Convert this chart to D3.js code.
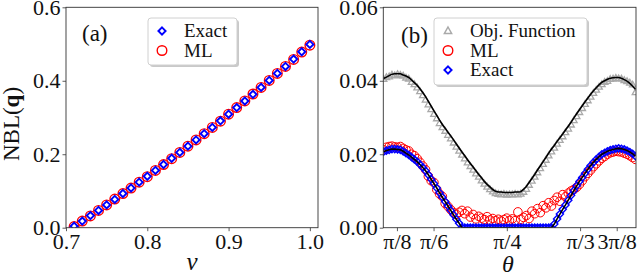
<!DOCTYPE html>
<html>
  <head>
    <meta charset="utf-8">
    <title>NBL panels</title>
    <script src="https://unpkg.com/d3@7/dist/d3.min.js"></script>
    <style>
      body { margin: 0; background: white; }
    </style>
  </head>
  <body>
    <svg width='640' height='276'></svg>
    <script>
      const FONT = "'Liberation Serif', 'Times New Roman', serif";
      const svg = d3.select('svg').attr('font-family', FONT);

      // ---- panel (a) data ----
      const vVals = [0.71, 0.72, 0.73, 0.74, 0.75, 0.76, 0.77, 0.78, 0.79, 0.80,
                     0.81, 0.82, 0.83, 0.84, 0.85, 0.86, 0.87, 0.88, 0.89, 0.90,
                     0.91, 0.92, 0.93, 0.94, 0.95, 0.96, 0.97, 0.98, 0.99, 1.00];
      const nblExactA = [0.004, 0.018, 0.033, 0.047, 0.062, 0.077, 0.093, 0.108, 0.124, 0.140,
                         0.156, 0.172, 0.189, 0.205, 0.222, 0.239, 0.256, 0.273, 0.291, 0.309,
                         0.327, 0.345, 0.363, 0.382, 0.401, 0.420, 0.439, 0.459, 0.479, 0.499];
      const nblMLA = [0.003, 0.018, 0.032, 0.047, 0.062, 0.078, 0.093, 0.108, 0.124, 0.139,
                      0.156, 0.172, 0.188, 0.205, 0.222, 0.239, 0.256, 0.273, 0.290, 0.309,
                      0.327, 0.345, 0.364, 0.382, 0.401, 0.420, 0.439, 0.458, 0.478, 0.497];
      const xTicksA = [0.7, 0.8, 0.9, 1.0];
      const yTicksA = [0.0, 0.2, 0.4, 0.6];

      // ---- panel (b) data ----
      const theta = [0.345, 0.355, 0.365, 0.375, 0.385, 0.395, 0.405, 0.415, 0.425, 0.435,
                     0.445, 0.455, 0.465, 0.475, 0.485, 0.495, 0.505, 0.515, 0.525, 0.535,
                     0.545, 0.555, 0.565, 0.575, 0.585, 0.595, 0.605, 0.615, 0.625, 0.635,
                     0.645, 0.655, 0.665, 0.675, 0.685, 0.695, 0.705, 0.715, 0.725, 0.735,
                     0.745, 0.755, 0.765, 0.775, 0.785, 0.795, 0.805, 0.815, 0.825, 0.835,
                     0.845, 0.855, 0.865, 0.875, 0.885, 0.895, 0.905, 0.915, 0.925, 0.935,
                     0.945, 0.955, 0.965, 0.975, 0.985, 0.995, 1.005, 1.015, 1.025, 1.035,
                     1.045, 1.055, 1.065, 1.075, 1.085, 1.095, 1.105, 1.115, 1.125, 1.135,
                     1.145, 1.155, 1.165, 1.175, 1.185, 1.195, 1.205, 1.215, 1.225, 1.235,
                     1.245];
      const objFit = [0.0406, 0.0410, 0.0414, 0.0418, 0.0419, 0.0419, 0.0419, 0.0416, 0.0413, 0.0409,
                      0.0402, 0.0395, 0.0388, 0.0378, 0.0368, 0.0357, 0.0344, 0.0331, 0.0318, 0.0306,
                      0.0293, 0.0281, 0.0271, 0.0260, 0.0250, 0.0239, 0.0228, 0.0217, 0.0206, 0.0196,
                      0.0185, 0.0175, 0.0165, 0.0155, 0.0145, 0.0136, 0.0126, 0.0118, 0.0111, 0.0104,
                      0.0099, 0.0097, 0.0097, 0.0096, 0.0096, 0.0096, 0.0096, 0.0097, 0.0097, 0.0098,
                      0.0104, 0.0112, 0.0123, 0.0134, 0.0145, 0.0157, 0.0168, 0.0180, 0.0191, 0.0203,
                      0.0214, 0.0224, 0.0235, 0.0245, 0.0255, 0.0266, 0.0276, 0.0287, 0.0299, 0.0310,
                      0.0321, 0.0332, 0.0343, 0.0353, 0.0363, 0.0373, 0.0381, 0.0389, 0.0396, 0.0400,
                      0.0404, 0.0407, 0.0408, 0.0409, 0.0409, 0.0407, 0.0403, 0.0399, 0.0393, 0.0385,
                      0.0377];
      const objFunc = [0.0404, 0.0409, 0.0411, 0.0416, 0.0414, 0.0417, 0.0415, 0.0413, 0.0408, 0.0405,
                       0.0396, 0.0390, 0.0381, 0.0371, 0.0360, 0.0348, 0.0335, 0.0322, 0.0309, 0.0297,
                       0.0284, 0.0273, 0.0263, 0.0252, 0.0242, 0.0231, 0.0220, 0.0209, 0.0198, 0.0188,
                       0.0177, 0.0167, 0.0157, 0.0147, 0.0138, 0.0128, 0.0119, 0.0111, 0.0104, 0.0098,
                       0.0093, 0.0091, 0.0090, 0.0091, 0.0089, 0.0090, 0.0090, 0.0091, 0.0090, 0.0092,
                       0.0097, 0.0105, 0.0116, 0.0127, 0.0138, 0.0150, 0.0161, 0.0173, 0.0184, 0.0196,
                       0.0207, 0.0217, 0.0228, 0.0238, 0.0248, 0.0259, 0.0269, 0.0280, 0.0292, 0.0303,
                       0.0314, 0.0325, 0.0336, 0.0346, 0.0356, 0.0366, 0.0375, 0.0383, 0.0390, 0.0396,
                       0.0399, 0.0404, 0.0405, 0.0407, 0.0406, 0.0405, 0.0401, 0.0398, 0.0394, 0.0389,
                       0.0368];
      const nblMLB = [0.0212, 0.0219, 0.0221, 0.0222, 0.0220, 0.0219, 0.0221, 0.0216, 0.0212, 0.0209,
                      0.0200, 0.0196, 0.0188, 0.0178, 0.0168, 0.0158, 0.0140, 0.0128, 0.0123, 0.0104,
                      0.0092, 0.0085, 0.0066, 0.0058, 0.0049, 0.0041, 0.0036, 0.0042, 0.0047, 0.0038,
                      0.0045, 0.0029, 0.0036, 0.0024, 0.0031, 0.0026, 0.0022, 0.0030, 0.0021, 0.0025,
                      0.0019, 0.0023, 0.0018, 0.0022, 0.0026, 0.0020, 0.0024, 0.0019, 0.0043, 0.0023,
                      0.0028, 0.0033, 0.0025, 0.0045, 0.0038, 0.0052, 0.0041, 0.0060, 0.0054, 0.0068,
                      0.0059, 0.0074, 0.0083, 0.0072, 0.0090, 0.0084, 0.0094, 0.0100, 0.0104, 0.0110,
                      0.0118, 0.0128, 0.0139, 0.0148, 0.0157, 0.0166, 0.0174, 0.0182, 0.0189, 0.0194,
                      0.0200, 0.0204, 0.0206, 0.0208, 0.0207, 0.0206, 0.0203, 0.0200, 0.0196, 0.0191,
                      0.0186];
      const nblExactB = [0.0207, 0.0210, 0.0212, 0.0214, 0.0214, 0.0213, 0.0212, 0.0208, 0.0203, 0.0198,
                         0.0192, 0.0186, 0.0180, 0.0172, 0.0164, 0.0155, 0.0144, 0.0132, 0.0120, 0.0108,
                         0.0095, 0.0083, 0.0071, 0.0059, 0.0047, 0.0035, 0.0023, 0.0012, 0, 0,
                         0, 0, 0, 0, 0, 0, 0, 0, 0, 0,
                         0, 0, 0, 0, 0, 0, 0, 0, 0, 0,
                         0, 0, 0, 0, 0, 0, 0, 0, 0, 0,
                         0, 0.0010, 0.0024, 0.0037, 0.0050, 0.0062, 0.0075, 0.0088, 0.0101, 0.0114,
                         0.0126, 0.0137, 0.0148, 0.0159, 0.0169, 0.0178, 0.0186, 0.0193, 0.0200, 0.0204,
                         0.0208, 0.0211, 0.0213, 0.0215, 0.0216, 0.0215, 0.0213, 0.0210, 0.0206, 0.0201,
                         0.0195];
      const xTicksB = [Math.PI / 8, Math.PI / 6, Math.PI / 4, Math.PI / 3, 3 * Math.PI / 8];
      const xTickLabelsB = ['π/8', 'π/6', 'π/4', 'π/3', '3π/8'];
      const yTicksB = [0.00, 0.02, 0.04, 0.06];

      const RED = '#ff0000', BLUE = '#0000ff', GRAY = '#a9a9a9';

      // marker shapes
      const diamond = s => `M0,${-s}L${s},0L0,${s}L${-s},0Z`;
      const triangle = s => `M0,${-s}L${s * 0.9},${s * 0.6}L${-s * 0.9},${s * 0.6}Z`;

      // 坐标轴 + 边框
      function drawFrame(g, x, y, xTicks, xFmt, yTicks, yFmt) {
        const [x0, x1] = x.range();
        const [y0, y1] = y.range();
        const xAxis = d3.axisBottom(x).tickValues(xTicks).tickFormat(xFmt).tickSize(3.5).tickPadding(2);
        const yAxis = d3.axisLeft(y).tickValues(yTicks).tickFormat(yFmt).tickSize(3.5).tickPadding(2);
        const xg = g.append('g').attr('transform', `translate(0,${y0})`).call(xAxis);
        const yg = g.append('g').attr('transform', `translate(${x0},0)`).call(yAxis);
        [xg, yg].forEach(a => {
          a.attr('font-family', FONT).attr('font-size', 22);
          a.select('.domain').remove();
          a.selectAll('.tick line').attr('stroke', '#333').attr('stroke-width', 0.8);
          a.selectAll('.tick text').attr('fill', '#111');
        });
        g.append('rect')
          .attr('x', x0).attr('y', y1)
          .attr('width', x1 - x0).attr('height', y0 - y1)
          .attr('fill', 'none').attr('stroke', '#333').attr('stroke-width', 0.9);
      }

      function clipFor(id, x, y) {
        const [x0, x1] = x.range();
        const [y0, y1] = y.range();
        svg.append('defs').append('clipPath').attr('id', id)
          .append('rect').attr('x', x0).attr('y', y1).attr('width', x1 - x0).attr('height', y0 - y1);
        return `url(#${id})`;
      }

      function legend(g, x, y, w, h, items) {
        g.append('rect').attr('x', x + 2).attr('y', y + 2).attr('width', w).attr('height', h)
          .attr('rx', 3).attr('fill', '#888').attr('opacity', 0.45);
        g.append('rect').attr('x', x).attr('y', y).attr('width', w).attr('height', h)
          .attr('rx', 3).attr('fill', 'white').attr('stroke', '#d0d0d0').attr('stroke-width', 1);
        items.forEach((it, i) => {
          const cy = y + 13 + i * 19.5;
          const m = g.append('g').attr('transform', `translate(${x + 14},${cy})`);
          it.mark(m);
          g.append('text').attr('x', x + 36).attr('y', cy + 6)
            .attr('font-size', 19).attr('fill', '#111').text(it.label);
        });
      }

      // ---------------- panel (a) ----------------
      const xA = d3.scaleLinear().domain([0.7, 1.01]).range([66, 318]);
      const yA = d3.scaleLinear().domain([0, 0.6]).range([227.7, 7.3]);
      const gA = svg.append('g');
      const clipA = clipFor('clipA', xA, yA);
      const ptsA = gA.append('g').attr('clip-path', clipA);

      ptsA.selectAll('circle').data(vVals).join('circle')
        .attr('cx', d => xA(d)).attr('cy', (d, i) => yA(nblMLA[i])).attr('r', 4.8)
        .attr('fill', 'none').attr('stroke', RED).attr('stroke-width', 1.4);
      ptsA.selectAll('path').data(vVals).join('path')
        .attr('transform', (d, i) => `translate(${xA(d)},${yA(nblExactA[i])})`)
        .attr('d', diamond(3.6)).attr('fill', 'none').attr('stroke', BLUE).attr('stroke-width', 1.9);

      drawFrame(gA, xA, yA, xTicksA, d3.format('.1f'), yTicksA, d3.format('.1f'));

      gA.append('text').attr('x', 82).attr('y', 41).attr('font-size', 23).attr('fill', '#111').text('(a)');
      gA.append('text').attr('x', 192).attr('y', 270).attr('text-anchor', 'middle')
        .attr('font-size', 25).attr('font-style', 'italic').attr('fill', '#111').text('v');
      const yLab = gA.append('text').attr('transform', 'translate(19,124) rotate(-90)')
        .attr('text-anchor', 'middle').attr('font-size', 23).attr('fill', '#111');
      yLab.append('tspan').text('NBL(');
      yLab.append('tspan').attr('font-weight', 'bold').text('q');
      yLab.append('tspan').text(')');

      legend(gA, 148, 18, 89, 47, [
        {label: 'Exact', mark: m => m.append('path').attr('d', diamond(3.6)).attr('fill', 'none').attr('stroke', BLUE).attr('stroke-width', 1.9)},
        {label: 'ML', mark: m => m.append('circle').attr('r', 4.8).attr('fill', 'none').attr('stroke', RED).attr('stroke-width', 1.4)}
      ]);

      // ---------------- panel (b) ----------------
      const xB = d3.scaleLinear().domain([0.344, 1.247]).range([383.3, 636]);
      const yB = d3.scaleLinear().domain([0, 0.06]).range([227.7, 7.3]);
      const gB = svg.append('g');
      const clipB = clipFor('clipB', xB, yB);
      const ptsB = gB.append('g').attr('clip-path', clipB);

      ptsB.append('g').selectAll('path').data(theta).join('path')
        .attr('transform', (d, i) => `translate(${xB(d)},${yB(objFunc[i])})`)
        .attr('d', triangle(3.6)).attr('fill', 'none').attr('stroke', GRAY).attr('stroke-width', 1.3);
      ptsB.append('g').selectAll('circle').data(theta).join('circle')
        .attr('cx', d => xB(d)).attr('cy', (d, i) => yB(nblMLB[i])).attr('r', 4.3)
        .attr('fill', 'none').attr('stroke', RED).attr('stroke-width', 1);
      ptsB.append('g').selectAll('path').data(theta).join('path')
        .attr('transform', (d, i) => `translate(${xB(d)},${yB(nblExactB[i])})`)
        .attr('d', diamond(3.6)).attr('fill', 'none').attr('stroke', BLUE).attr('stroke-width', 1.4);

      const lineFit = d3.line().x(d => xB(d)).y((d, i) => yB(objFit[i]));
      const lineExact = d3.line().x(d => xB(d)).y((d, i) => yB(nblExactB[i]));
      ptsB.append('path').attr('d', lineFit(theta)).attr('fill', 'none').attr('stroke', 'black').attr('stroke-width', 1.6);
      ptsB.append('path').attr('d', lineExact(theta)).attr('fill', 'none').attr('stroke', 'black').attr('stroke-width', 1.6);

      drawFrame(gB, xB, yB, xTicksB, (d, i) => xTickLabelsB[i], yTicksB, d3.format('.2f'));

      gB.append('text').attr('x', 401).attr('y', 43).attr('font-size', 23).attr('fill', '#111').text('(b)');
      gB.append('text').attr('x', 508).attr('y', 272).attr('text-anchor', 'middle')
        .attr('font-size', 24).attr('font-style', 'italic').attr('fill', '#111').text('θ');

      legend(gB, 434, 18, 153, 67, [
        {label: 'Obj. Function', mark: m => m.append('path').attr('d', triangle(4)).attr('fill', 'none').attr('stroke', GRAY).attr('stroke-width', 1.5)},
        {label: 'ML', mark: m => m.append('circle').attr('r', 4.8).attr('fill', 'none').attr('stroke', RED).attr('stroke-width', 1.4)},
        {label: 'Exact', mark: m => m.append('path').attr('d', diamond(3.6)).attr('fill', 'none').attr('stroke', BLUE).attr('stroke-width', 1.9)}
      ]);
    </script>
  </body>
</html>
